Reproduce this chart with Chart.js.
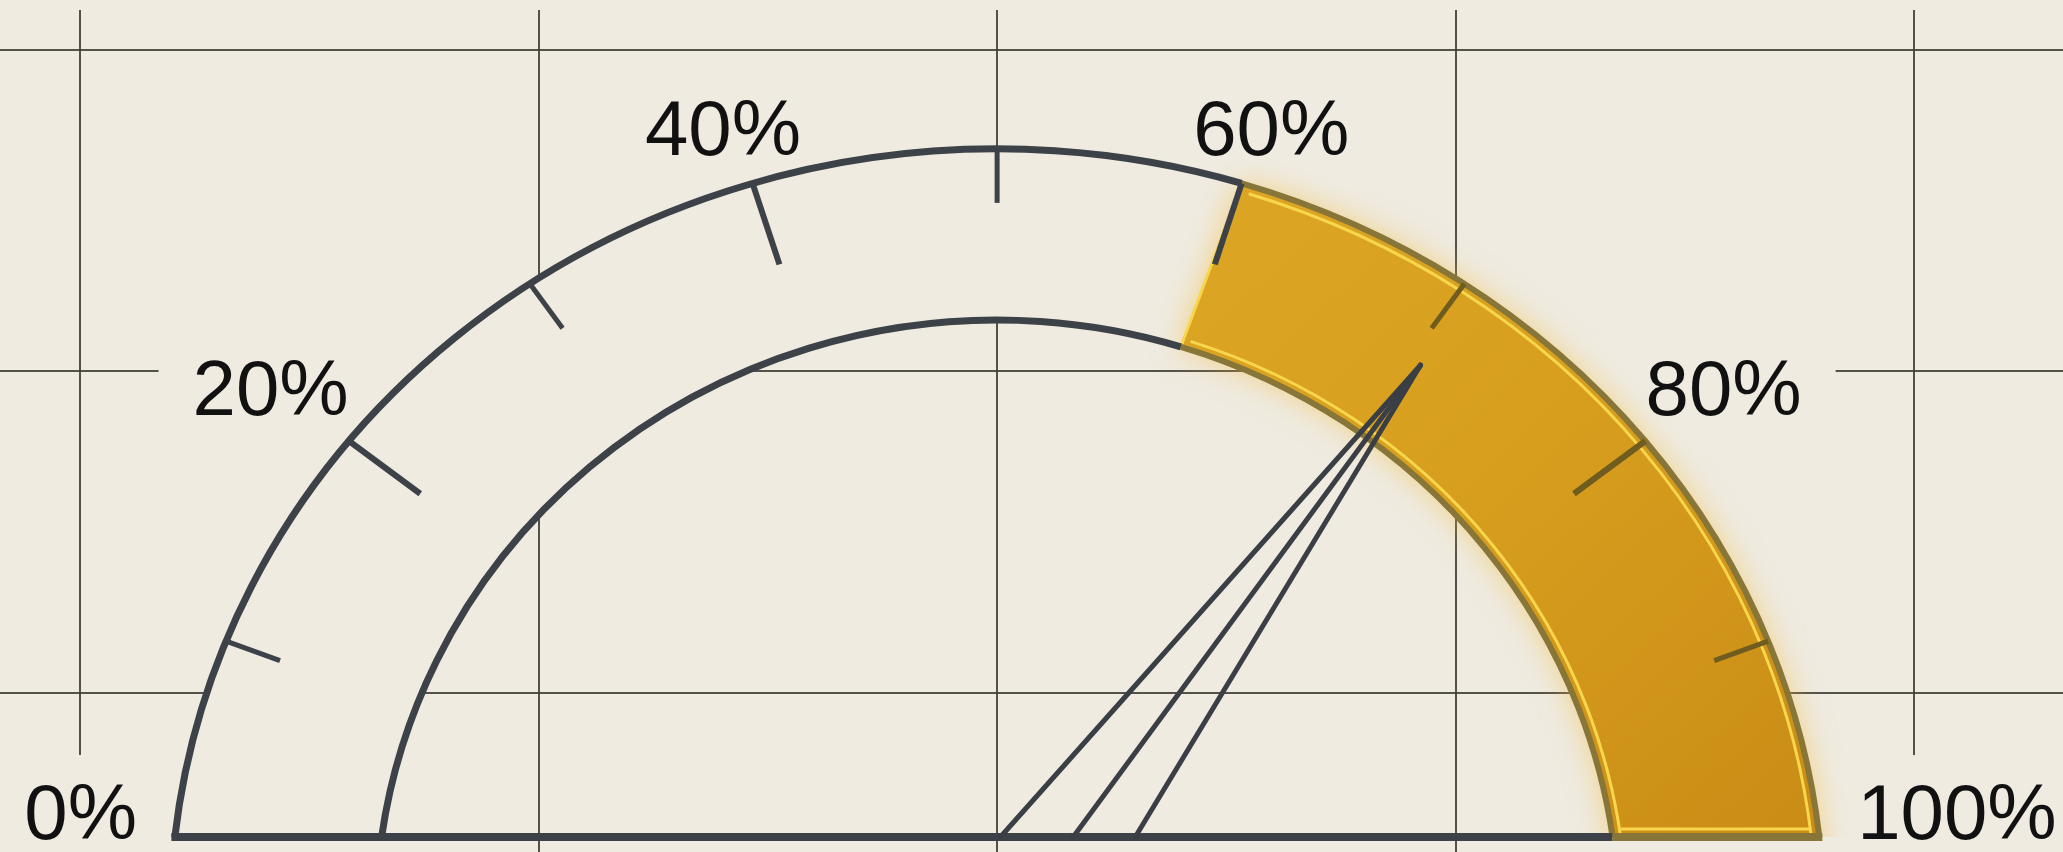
<!DOCTYPE html>
<html>
<head>
<meta charset="utf-8">
<script src="https://cdn.jsdelivr.net/npm/chart.js@4.4.1/dist/chart.umd.min.js"></script>
<style>
  html, body { margin: 0; padding: 0; background: #efebe1; }
  #wrap { width: 2063px; height: 852px; position: relative; }
</style>
</head>
<body>
<div id="wrap"><canvas id="gauge"></canvas></div>
<script>
// gauge scale, in percent
const tickValues = [0, 10, 20, 30, 40, 50, 60, 70, 80, 90, 100];
const labelValues = [0, 20, 40, 60, 80, 100];
const tickLabels = ["0%", "20%", "40%", "60%", "80%", "100%"];
// highlighted zone of the dial
const bandStart = [60];
const bandEnd = [100];
// needle reading
const needleValue = [70.6];
// background grid lines (axis units)
const gridX = [-2, -1, 0, 1, 2];
const gridY = [0, 1, 2];

// dial geometry in axis units; the arcs are clipped at the base line
const dial = {
  cx: 0, cy: -0.706, base: -0.448,
  rx: 1.804, ry: 2.398,        // outer edge
  irx: 1.3555, iry: 1.866,     // inner edge
  span: 172,                   // degrees covered by 0..100
  major: 0.89, minor: 0.93, tip: 0.883,
  forks: [0.004, 0.092, 0.167],
  lcy: -0.572, lrx: 2.022, lry: 2.42, endLabel: 1.04
};

const BG = "#efebe1";
const DARK = "#3c4247";
const OLIVE = "#877638";

const gaugePlugin = {
  id: "gauge",
  afterDatasetsDraw(chart) {
    const ctx = chart.ctx;
    const area = chart.chartArea;
    const xs = chart.scales.x, ys = chart.scales.y;
    const px = (v) => xs.getPixelForValue(v) - xs.getPixelForValue(0);
    const py = (v) => ys.getPixelForValue(0) - ys.getPixelForValue(v);
    const cx = xs.getPixelForValue(dial.cx), cy = ys.getPixelForValue(dial.cy);
    const by = ys.getPixelForValue(dial.base);
    const RX = px(dial.rx), RY = py(dial.ry);
    const IX = px(dial.irx), IY = py(dial.iry);
    const ang = (v) => -(90 + (50 - v) * dial.span / 100) * Math.PI / 180;
    const on = (v, rx, ry, k, y0) => [cx + k * rx * Math.cos(ang(v)), (y0 ?? cy) + k * ry * Math.sin(ang(v))];
    const b0 = bandStart[0], b1 = bandEnd[0];
    // where the edges meet the base line
    const outX = RX * Math.sqrt(1 - Math.pow((cy - by) / RY, 2));
    const inX = IX * Math.sqrt(1 - Math.pow((cy - by) / IY, 2));

    const ring = (a, b) => {
      ctx.beginPath();
      ctx.ellipse(cx, cy, RX, RY, 0, ang(a), ang(b));
      ctx.ellipse(cx, cy, IX, IY, 0, ang(b), ang(a), true);
      ctx.closePath();
    };
    const arc = (a, b, rx, ry) => {
      ctx.beginPath();
      ctx.ellipse(cx, cy, rx, ry, 0, ang(a), ang(b));
      ctx.stroke();
    };
    const line = (p, q) => {
      ctx.beginPath();
      ctx.moveTo(p[0], p[1]);
      ctx.lineTo(q[0], q[1]);
      ctx.stroke();
    };

    ctx.save();
    ctx.font = '78px "Liberation Sans", Arial, sans-serif';

    // label boxes hide the grid behind the text (wider on the side facing the dial)
    const LX = px(dial.lrx), LY = py(dial.lry), lcy = ys.getPixelForValue(dial.lcy);
    const labels = labelValues.map((v, i) => {
      const text = tickLabels[i];
      const w = ctx.measureText(text).width;
      if (v === 0 || v === 100) {
        const side = v === 0 ? -1 : 1;
        const x = cx + side * dial.endLabel * RX;
        const y = by + 2;
        return { text, x, y, left: side < 0 ? x - w : x, top: y - 56, w, padL: 34, padR: 34, align: side < 0 ? "right" : "left", base: "alphabetic" };
      }
      const [x, y] = on(v, LX, LY, 1, lcy);
      const inward = v < 50 ? [34, 72] : [72, 34];
      return { text, x, y, left: x - w / 2, top: y - 28, w, padL: inward[0], padR: inward[1], align: "center", base: "middle" };
    });
    ctx.fillStyle = BG;
    labels.forEach((l) => ctx.fillRect(l.left - l.padL, l.top - 28, l.w + l.padL + l.padR, 112));

    // everything of the dial stays above the base line
    ctx.save();
    ctx.beginPath();
    ctx.rect(area.left, area.top, area.right - area.left, by - area.top);
    ctx.clip();

    // empty part of the ring
    ring(0, 100);
    ctx.fillStyle = BG;
    ctx.fill();

    // gold band with glow
    ctx.save();
    ring(b0, b1);
    const g = ctx.createLinearGradient(cx + IX * 0.3, cy - RY, cx + RX, by);
    g.addColorStop(0, "#dca624");
    g.addColorStop(0.45, "#d89f1e");
    g.addColorStop(1, "#c98c16");
    ctx.fillStyle = g;
    ctx.shadowColor = "rgba(244, 186, 50, 0.6)";
    ctx.shadowBlur = 32;
    ctx.fill();
    ctx.restore();

    // light edges inside the band
    ctx.strokeStyle = "#f7d64c";
    ctx.lineWidth = 3;
    arc(b0 + 0.4, b1, RX - 8, RY - 8);
    arc(b0 + 0.4, b1, IX + 8, IY + 8);
    line(on(b0, IX, IY, 1), on(b0, RX, RY, 1));
    line([cx + inX + 8, by - 8], [cx + outX - 8, by - 8]);

    // band border
    ctx.strokeStyle = OLIVE;
    ctx.lineWidth = 6;
    arc(b0, b1, RX, RY);
    arc(b0, b1, IX, IY);

    // dark outline of the dial
    ctx.strokeStyle = DARK;
    ctx.lineWidth = 7;
    arc(0, b0, RX, RY);
    arc(0, b0, IX, IY);

    // ticks
    tickValues.forEach((v) => {
      if (v === 0 || v === 100) return;
      const major = labelValues.includes(v);
      ctx.strokeStyle = v > b0 ? "#6f5c1e" : DARK;
      ctx.lineWidth = major ? 6 : 5;
      line(on(v, RX, RY, 1), on(v, RX, RY, major ? dial.major : dial.minor));
    });
    ctx.restore();

    // base line
    ctx.lineWidth = 8;
    ctx.strokeStyle = DARK;
    line([cx - outX - 3.5, by], [cx + inX, by]);
    ctx.strokeStyle = OLIVE;
    line([cx + inX, by], [cx + outX + 3, by]);

    // needle
    const tip = on(needleValue[0], RX, RY, dial.tip);
    ctx.strokeStyle = "#3a3f45";
    ctx.lineWidth = 5;
    ctx.lineCap = "round";
    dial.forks.forEach((f) => line([cx + f * RX, by], tip));

    // labels
    ctx.fillStyle = "#111111";
    labels.forEach((l) => {
      ctx.textAlign = l.align;
      ctx.textBaseline = l.base;
      ctx.fillText(l.text, l.x, l.y);
    });
    ctx.restore();
  }
};

const gridStyle = { color: "rgba(66, 64, 58, 0.9)", lineWidth: 2, drawTicks: false };

new Chart(document.getElementById("gauge"), {
  type: "scatter",
  data: { datasets: [{ data: [] }] },
  options: {
    responsive: true,
    maintainAspectRatio: false,
    animation: false,
    devicePixelRatio: 1,
    layout: { padding: { top: 10, left: 0, right: 0, bottom: 0 } },
    plugins: { legend: { display: false }, tooltip: { enabled: false } },
    scales: {
      x: {
        type: "linear", min: -2.175, max: 2.325,
        afterBuildTicks: (s) => { s.ticks = gridX.map((v) => ({ value: v })); },
        ticks: { display: false }, border: { display: false }, grid: gridStyle
      },
      y: {
        type: "linear", min: -0.4946, max: 2.124,
        afterBuildTicks: (s) => { s.ticks = gridY.map((v) => ({ value: v })); },
        ticks: { display: false }, border: { display: false }, grid: gridStyle
      }
    }
  },
  plugins: [gaugePlugin]
});
</script>
</body>
</html>
